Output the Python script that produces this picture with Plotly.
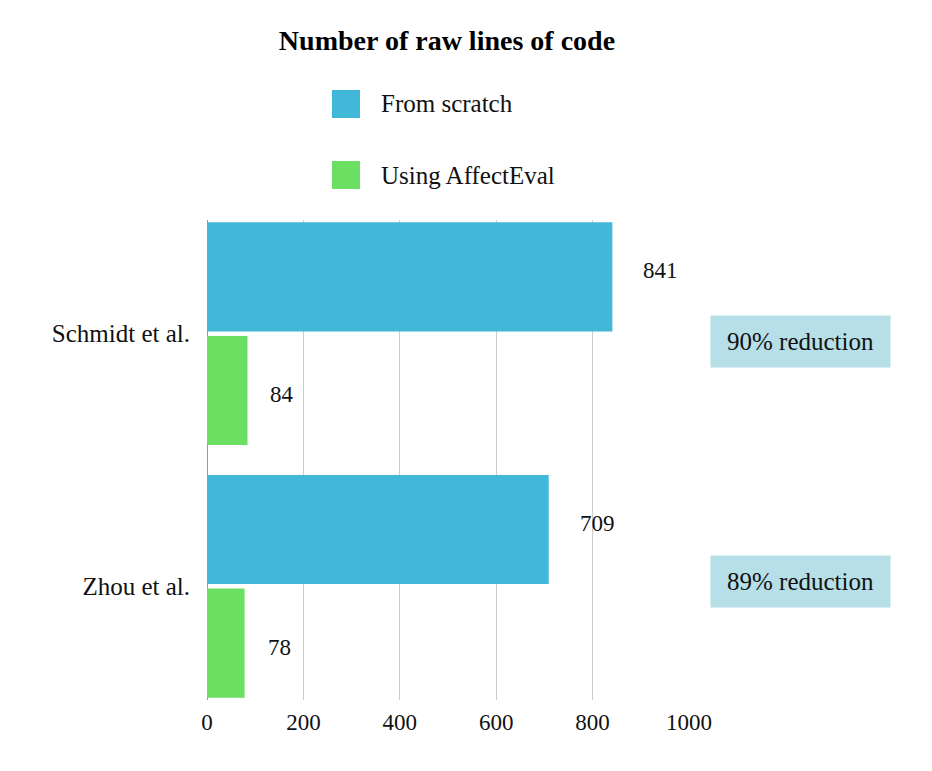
import plotly.graph_objects as go

categories = ["Schmidt et al.", "Zhou et al."]
from_scratch = [841, 709]
using_affecteval = [84, 78]
series_names = ["From scratch", "Using AffectEval"]
colors = ["#42b8d8", "#6adf62"]
x_ticks = [0, 200, 400, 600, 800, 1000]

FONT = "Liberation Serif, Times New Roman, serif"
WORD = 25
NUM = 23

fig = go.Figure()
fig.add_trace(go.Bar(y=categories, x=from_scratch, orientation="h", name=series_names[0],
                     marker=dict(color=colors[0], line=dict(width=0)), showlegend=False))
fig.add_trace(go.Bar(y=categories, x=using_affecteval, orientation="h", name=series_names[1],
                     marker=dict(color=colors[1], line=dict(width=0)), showlegend=False))

annotations = []
# value labels
for cat, v in zip(categories, from_scratch):
    annotations.append(dict(x=v, y=cat, xref="x", yref="y", text=str(v), showarrow=False,
                            xanchor="left", yanchor="middle", xshift=29, yshift=63,
                            font=dict(family=FONT, size=NUM, color="#111")))
for cat, v in zip(categories, using_affecteval):
    annotations.append(dict(x=v, y=cat, xref="x", yref="y", text=str(v), showarrow=False,
                            xanchor="left", yanchor="middle", xshift=21, yshift=-61,
                            font=dict(family=FONT, size=NUM, color="#111")))
# reduction boxes
red_y = [0.746, 0.246]
for a, b, yy in zip(from_scratch, using_affecteval, red_y):
    pct = round((1 - b / a) * 100)
    annotations.append(dict(x=1.232, y=yy, xref="paper", yref="paper", text=f"{pct}% reduction",
                            showarrow=False, xanchor="center", yanchor="middle",
                            bgcolor="#b6dfe8", width=157, height=29, borderpad=11,
                            font=dict(family=FONT, size=WORD, color="#111")))
# legend (drawn)
leg_y = [1.2417, 1.09375]
shapes = []
for name, col, yy in zip(series_names, colors, leg_y):
    shapes.append(dict(type="rect", xref="paper", yref="paper", x0=0.2593, x1=0.3174,
                       y0=yy - 0.0292, y1=yy + 0.0292, fillcolor=col, line=dict(width=0)))
    annotations.append(dict(x=0.3568, y=yy, xref="paper", yref="paper", text=name, showarrow=False,
                            xanchor="left", yanchor="middle",
                            font=dict(family=FONT, size=WORD, color="#111")))

fig.update_layout(
    width=932, height=771,
    margin=dict(l=199, r=251, t=212, b=79),
    paper_bgcolor="white", plot_bgcolor="white",
    barmode="group", bargap=0.1, bargroupgap=0.04,
    title=dict(text="<b>Number of raw lines of code</b>", x=0.471, xanchor="center",
               y=0.9585, yanchor="middle", font=dict(family=FONT, size=28, color="#000")),
    font=dict(family=FONT, size=WORD, color="#111"),
    xaxis=dict(range=[0, 1000], tickvals=x_ticks, ticktext=[str(t) for t in x_ticks],
               showgrid=True, gridcolor="#cccccc", gridwidth=1,
               zeroline=True, zerolinecolor="#999999", zerolinewidth=1,
               ticklabelstandoff=6, tickfont=dict(family=FONT, size=NUM, color="#111")),
    yaxis=dict(range=[1.45, -0.45], showgrid=False, zeroline=False,
               ticklabelstandoff=16, tickfont=dict(family=FONT, size=WORD, color="#111")),
    shapes=shapes,
    annotations=annotations,
)

fig.write_html("out.html")
